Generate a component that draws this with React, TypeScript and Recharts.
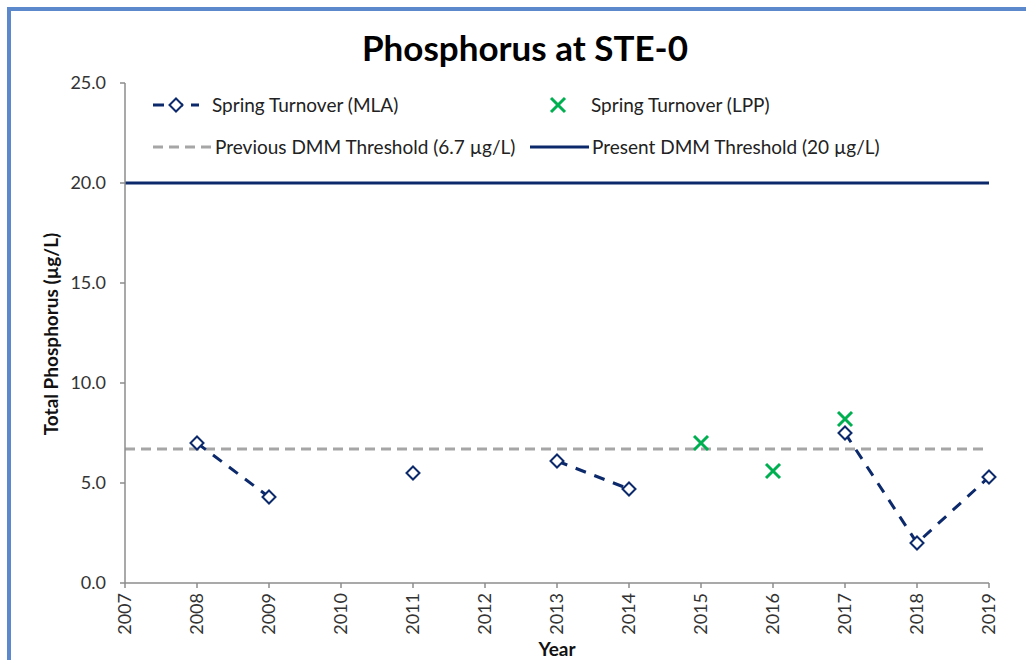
import { LineChart, Line, XAxis, YAxis, ReferenceLine } from 'recharts';

const YEARS = [2007, 2008, 2009, 2010, 2011, 2012, 2013, 2014, 2015, 2016, 2017, 2018, 2019];
const MLA = [null, 7.0, 4.3, null, 5.5, null, 6.1, 4.7, null, null, 7.5, 2.0, 5.3];
const LPP = [null, null, null, null, null, null, null, null, 7.0, 5.6, 8.2, null, null];
const Y_TICKS = [0, 5, 10, 15, 20, 25];
const PREV_THRESHOLD = 6.7;
const PRESENT_THRESHOLD = 20;

const NAVY = '#0c2a6b';
const GREEN = '#00b050';
const GRAY = '#a6a6a6';
const AXIS = '#8c8c8c';
const FONT = 'Lato, "Noto Sans", sans-serif';

const data = YEARS.map((year, i) => ({ year, mla: MLA[i], lpp: LPP[i] }));

const Diamond = ({ cx, cy, size = 6.5 }: { cx: number; cy: number; size?: number }) => (
  <path
    d={`M${cx},${cy - size} L${cx + size},${cy} L${cx},${cy + size} L${cx - size},${cy} Z`}
    fill="#fff"
    stroke={NAVY}
    strokeWidth={2}
  />
);

const Cross = ({ cx, cy, size = 7 }: { cx: number; cy: number; size?: number }) => (
  <g stroke={GREEN} strokeWidth={3}>
    <line x1={cx - size} y1={cy - size} x2={cx + size} y2={cy + size} />
    <line x1={cx - size} y1={cy + size} x2={cx + size} y2={cy - size} />
  </g>
);

const renderDiamond = (props: any) => {
  const { cx, cy, value, index } = props;
  if (value == null || cx == null || cy == null) return <g key={`d-${index}`} />;
  return <Diamond key={`d-${index}`} cx={cx} cy={cy} />;
};

const renderCross = (props: any) => {
  const { cx, cy, value, index } = props;
  if (value == null || cx == null || cy == null) return <g key={`x-${index}`} />;
  return <Cross key={`x-${index}`} cx={cx} cy={cy} />;
};

const YearTick = (props: any) => {
  const { x, y, payload } = props;
  return (
    <g transform={`translate(${x},${y + 3})`}>
      <text
        transform="rotate(-90)"
        textAnchor="end"
        dy="0.35em"
        fontSize={18}
        fontFamily={FONT}
        fill="#333"
      >
        {payload.value}
      </text>
    </g>
  );
};

const YTitle = () => (
  <text
    transform="translate(50,334) rotate(-90)"
    textAnchor="middle"
    dominantBaseline="central"
    fontSize={19}
    fontWeight="bold"
    fontFamily={FONT}
    fill="#111"
  >
    Total Phosphorus (µg/L)
  </text>
);

const XTitle = () => (
  <text x={557} y={656} textAnchor="middle" fontSize={19} fontWeight="bold" fontFamily={FONT} fill="#111">
    Year
  </text>
);

const legendText: React.CSSProperties = {
  position: 'absolute',
  fontFamily: FONT,
  fontSize: 19,
  color: '#222',
  lineHeight: '24px',
  whiteSpace: 'nowrap',
};

function ChartLegend() {
  return (
    <>
      {/* row 1 */}
      <svg style={{ position: 'absolute', left: 150, top: 95 }} width={52} height={20}>
        <line x1={3} y1={10} x2={49} y2={10} stroke={NAVY} strokeWidth={3} strokeDasharray="11 8" />
        <Diamond cx={26} cy={10} />
      </svg>
      <div style={{ ...legendText, left: 212, top: 93 }}>Spring Turnover (MLA)</div>
      <svg style={{ position: 'absolute', left: 548, top: 95 }} width={20} height={20}>
        <Cross cx={10} cy={10} />
      </svg>
      <div style={{ ...legendText, left: 591, top: 93 }}>Spring Turnover (LPP)</div>
      {/* row 2 */}
      <svg style={{ position: 'absolute', left: 152, top: 137 }} width={62} height={20}>
        <line x1={1} y1={10} x2={61} y2={10} stroke={GRAY} strokeWidth={3} strokeDasharray="10 6" />
      </svg>
      <div style={{ ...legendText, left: 215, top: 135 }}>Previous DMM Threshold (6.7 µg/L)</div>
      <svg style={{ position: 'absolute', left: 529, top: 137 }} width={62} height={20}>
        <line x1={1} y1={10} x2={60} y2={10} stroke={NAVY} strokeWidth={3} />
      </svg>
      <div style={{ ...legendText, left: 592, top: 135 }}>Present DMM Threshold (20 µg/L)</div>
    </>
  );
}

export default function App() {
  return (
    <div
      style={{
        position: 'absolute',
        left: 0,
        top: 0,
        width: 1026,
        height: 660,
        overflow: 'hidden',
        background: '#fff',
      }}
    >
      <div
        style={{
          position: 'absolute',
          left: 7,
          top: 7,
          width: 1100,
          height: 700,
          borderLeft: '4px solid #5b89cb',
          borderTop: '4px solid #5b89cb',
        }}
      />
      <div
        style={{
          position: 'absolute',
          left: 0,
          width: 1050,
          top: 26,
          textAlign: 'center',
          fontFamily: FONT,
          fontWeight: 'bold',
          fontSize: 35,
          color: '#000',
        }}
      >
        Phosphorus at STE-0
      </div>
      <div style={{ position: 'absolute', left: 0, top: 0 }}>
        <LineChart width={1026} height={660} data={data} margin={{ top: 83, right: 37, left: 0, bottom: 0 }}>
          <XAxis
            dataKey="year"
            type="number"
            domain={[2007, 2019]}
            ticks={YEARS}
            interval={0}
            height={77}
            stroke={AXIS}
            strokeWidth={1.5}
            tickSize={5}
            tick={<YearTick />}
            label={<XTitle />}
          />
          <YAxis
            domain={[0, 25]}
            ticks={Y_TICKS}
            width={125}
            stroke={AXIS}
            strokeWidth={1.5}
            tickSize={5}
            tickMargin={14}
            tickFormatter={(v: number) => v.toFixed(1)}
            tick={{ fontSize: 18, fontFamily: FONT, fill: '#333' }}
            label={<YTitle />}
          />
          <ReferenceLine y={PREV_THRESHOLD} stroke={GRAY} strokeWidth={3} strokeDasharray="10 6" />
          <ReferenceLine y={PRESENT_THRESHOLD} stroke={NAVY} strokeWidth={3} />
          <Line
            dataKey="mla"
            stroke={NAVY}
            strokeWidth={3}
            strokeDasharray="11 9"
            connectNulls={false}
            dot={renderDiamond}
            activeDot={false}
            isAnimationActive={false}
          />
          <Line
            dataKey="lpp"
            stroke="none"
            dot={renderCross}
            activeDot={false}
            isAnimationActive={false}
          />
        </LineChart>
      </div>
      <ChartLegend />
    </div>
  );
}
